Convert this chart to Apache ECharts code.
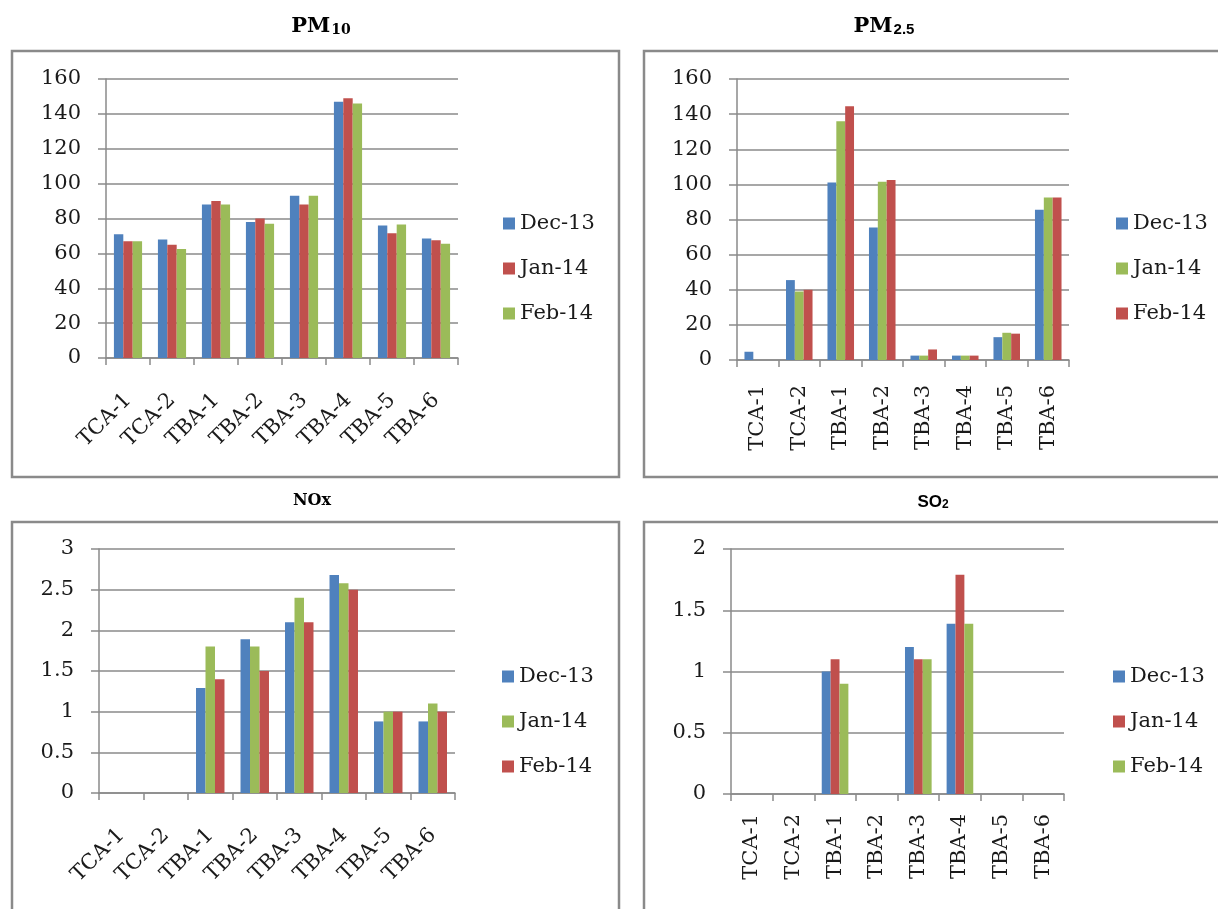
<!DOCTYPE html>
<html>
<head>
<meta charset="utf-8">
<script src="https://cdn.jsdelivr.net/npm/echarts@6/dist/echarts.min.js"></script>
<style>
  html, body { margin: 0; padding: 0; background: #fff; }
  body { width: 1218px; height: 909px; position: relative; overflow: hidden; }
  .panel { position: absolute; }
</style>
</head>
<body>
<div id="pm10" class="panel" style="left:0;top:0;width:630px;height:480px"></div>
<div id="pm25" class="panel" style="left:630px;top:0;width:588px;height:480px"></div>
<div id="nox" class="panel" style="left:0;top:480px;width:630px;height:429px"></div>
<div id="so2" class="panel" style="left:630px;top:480px;width:588px;height:429px"></div>
<script>
// Monitoring stations and sampling months
const categories = ['TCA-1', 'TCA-2', 'TBA-1', 'TBA-2', 'TBA-3', 'TBA-4', 'TBA-5', 'TBA-6'];
const months = ['Dec-13', 'Jan-14', 'Feb-14'];

// PM10 concentrations
const pm10Dec = [71, 68, 88, 78, 93, 147, 76, 68.5];
const pm10Jan = [67, 65, 90, 80, 88, 149, 71.5, 67.5];
const pm10Feb = [67, 62.5, 88, 77, 93, 146, 76.5, 65.5];

// PM2.5 concentrations
const pm25Dec = [4.7, 45.5, 101, 75.5, 2.5, 2.5, 13, 85.5];
const pm25Jan = [null, 39, 136, 101.5, 2.5, 2.5, 15.5, 92.5];
const pm25Feb = [null, 40, 144.5, 102.5, 6, 2.5, 15, 92.5];

// NOx concentrations
const noxDec = [null, null, 1.29, 1.89, 2.1, 2.68, 0.88, 0.88];
const noxJan = [null, null, 1.8, 1.8, 2.4, 2.58, 1.0, 1.1];
const noxFeb = [null, null, 1.4, 1.5, 2.1, 2.5, 1.0, 1.0];

// SO2 concentrations
const so2Dec = [null, null, 1.0, null, 1.2, 1.39, null, null];
const so2Jan = [null, null, 1.1, null, 1.1, 1.79, null, null];
const so2Feb = [null, null, 0.9, null, 1.1, 1.39, null, null];

// Value-axis ranges
const pm10Axis = { min: 0, max: 160, interval: 20 };
const pm25Axis = { min: 0, max: 160, interval: 20 };
const noxAxis = { min: 0, max: 3, interval: 0.5 };
const so2Axis = { min: 0, max: 2, interval: 0.5 };

const BLUE = '#4F81BD', RED = '#C0504D', GREEN = '#9BBB59';
const GRAY = '#8a8a8a';
const SERIF = '"DejaVu Serif", serif';
const INK = '#1a1a1a';

function buildOption(cfg) {
  const series = months.map(function (m, i) {
    return {
      name: m,
      type: 'bar',
      data: cfg.values[i],
      itemStyle: { color: cfg.colors[i] },
      barGap: '0%',
      barCategoryGap: '36%',
      animation: false
    };
  });
  return {
    animation: false,
    color: cfg.colors,
    graphic: [
      {
        type: 'rect',
        shape: cfg.frame,
        style: { fill: 'none', stroke: GRAY, lineWidth: 2.5 },
        silent: true
      },
      {
        type: 'text',
        x: cfg.title.x,
        y: cfg.title.y,
        style: {
          text: cfg.title.text,
          rich: cfg.title.rich,
          align: 'center',
          verticalAlign: 'middle',
          fill: '#000'
        },
        silent: true
      }
    ],
    grid: cfg.grid,
    legend: {
      data: months,
      orient: 'vertical',
      left: cfg.legend.left,
      top: cfg.legend.top,
      itemWidth: 12,
      itemHeight: 12,
      itemGap: 24,
      icon: 'rect',
      textStyle: { fontFamily: SERIF, fontSize: 21, color: INK }
    },
    xAxis: {
      type: 'category',
      data: categories,
      boundaryGap: true,
      axisLine: { lineStyle: { color: GRAY, width: 1.5 } },
      axisTick: { show: true, length: 7, lineStyle: { color: GRAY, width: 1.5 } },
      axisLabel: {
        interval: 0,
        rotate: cfg.rotate,
        margin: cfg.labelMargin,
        fontFamily: SERIF,
        fontSize: 21,
        color: INK
      }
    },
    yAxis: {
      type: 'value',
      min: cfg.axis.min,
      max: cfg.axis.max,
      interval: cfg.axis.interval,
      axisLine: { show: true, lineStyle: { color: GRAY, width: 1.5 } },
      axisTick: { show: true, length: 8, lineStyle: { color: GRAY, width: 1.5 } },
      splitLine: { lineStyle: { color: GRAY, width: 1.5 } },
      axisLabel: { margin: 25, fontFamily: SERIF, fontSize: 21, color: INK }
    },
    series: series
  };
}

const titleSerif = { fontFamily: SERIF, fontWeight: 'bold', fontSize: 21, color: '#000' };

const panels = [
  {
    id: 'pm10',
    values: [pm10Dec, pm10Jan, pm10Feb],
    colors: [BLUE, RED, GREEN],
    axis: pm10Axis,
    frame: { x: 12, y: 51, width: 607, height: 426 },
    grid: { left: 106, top: 79, width: 352, height: 279 },
    legend: { left: 498, top: 208 },
    rotate: 45,
    labelMargin: 39,
    title: {
      x: 321, y: 27, text: '{a|PM}{b|10}',
      rich: {
        a: titleSerif,
        b: { fontFamily: SERIF, fontWeight: 'bold', fontSize: 14, verticalAlign: 'bottom', padding: [0, 0, 0, 1] }
      }
    }
  },
  {
    id: 'pm25',
    values: [pm25Dec, pm25Jan, pm25Feb],
    colors: [BLUE, GREEN, RED],
    axis: pm25Axis,
    frame: { x: 14, y: 51, width: 620, height: 426 },
    grid: { left: 107, top: 79, width: 332, height: 281 },
    legend: { left: 481, top: 208 },
    rotate: 90,
    labelMargin: 25,
    title: {
      x: 254, y: 27, text: '{a|PM}{b|2.5}',
      rich: {
        a: titleSerif,
        b: { fontFamily: '"Liberation Sans", sans-serif', fontWeight: 'bold', fontSize: 15, verticalAlign: 'bottom', padding: [0, 0, 0, 1] }
      }
    }
  },
  {
    id: 'nox',
    values: [noxDec, noxJan, noxFeb],
    colors: [BLUE, GREEN, RED],
    axis: noxAxis,
    frame: { x: 12, y: 42, width: 607, height: 500 },
    grid: { left: 99, top: 69, width: 356, height: 244 },
    legend: { left: 497, top: 181 },
    rotate: 45,
    labelMargin: 39,
    title: {
      x: 312, y: 21, text: '{a|NOx}',
      rich: { a: { fontFamily: SERIF, fontWeight: 'bold', fontSize: 16, color: '#000' } }
    }
  },
  {
    id: 'so2',
    values: [so2Dec, so2Jan, so2Feb],
    colors: [BLUE, RED, GREEN],
    axis: so2Axis,
    frame: { x: 14, y: 42, width: 620, height: 500 },
    grid: { left: 101, top: 69, width: 333, height: 245 },
    legend: { left: 478, top: 181 },
    rotate: 90,
    labelMargin: 20,
    title: {
      x: 303, y: 22, text: '{a|SO}{b|2}',
      rich: {
        a: { fontFamily: '"Liberation Sans", sans-serif', fontWeight: 'bold', fontSize: 17, color: '#000' },
        b: { fontFamily: '"Liberation Sans", sans-serif', fontWeight: 'bold', fontSize: 12, verticalAlign: 'bottom' }
      }
    }
  }
];

panels.forEach(function (p) {
  const chart = echarts.init(document.getElementById(p.id), null, { renderer: 'canvas' });
  chart.setOption(buildOption(p));
});
</script>
</body>
</html>
